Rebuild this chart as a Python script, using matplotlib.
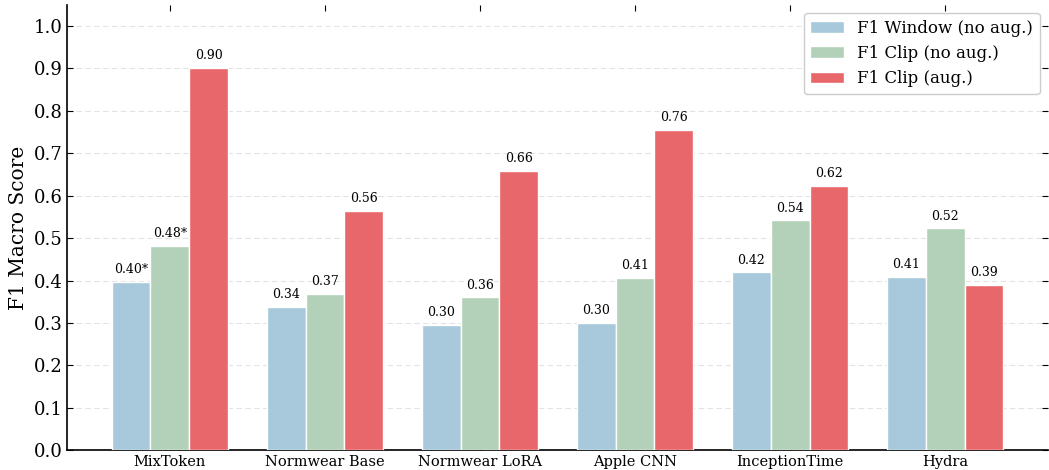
import numpy as np
import matplotlib
matplotlib.use("Agg")
import matplotlib.pyplot as plt

plt.rcParams["font.family"] = "DejaVu Serif"

# F1-resultater per modell
modeller = ["MixToken", "Normwear Base", "Normwear LoRA", "Apple CNN", "InceptionTime", "Hydra"]
f1_vindu = [0.397, 0.338, 0.296, 0.300, 0.419, 0.409]
f1_klipp = [0.482, 0.369, 0.361, 0.407, 0.542, 0.523]
f1_klipp_aug = [0.902, 0.564, 0.659, 0.755, 0.623, 0.390]
# stjerne betyr spesielt resultat
stjerne_vindu = [True, False, False, False, False, False]
stjerne_klipp = [True, False, False, False, False, False]
stjerne_aug = [False] * 6

farger = ["#a8c8db", "#b3d1b9", "#e8676a"]

x = np.arange(len(modeller))
bredde = 0.25

fig, ax = plt.subplots(figsize=(10.49, 4.7), dpi=100)

serier = [
    (f1_vindu, stjerne_vindu, "F1 Window (no aug.)"),
    (f1_klipp, stjerne_klipp, "F1 Clip (no aug.)"),
    (f1_klipp_aug, stjerne_aug, "F1 Clip (aug.)"),
]

for i, (verdier, stjerner, navn) in enumerate(serier):
    pos = x + (i - 1) * bredde
    ax.bar(pos, verdier, bredde, color=farger[i], edgecolor="white",
           linewidth=1, label=navn, zorder=3)
    for p, v, s in zip(pos, verdier, stjerner):
        tekst = f"{v:.2f}" + ("*" if s else "")
        ax.annotate(tekst, (p, v), xytext=(0, 4), textcoords="offset points",
                    ha="center", va="bottom", fontsize=9)

ax.set_ylim(0, 1.05)
ax.set_yticks(np.arange(0, 1.01, 0.1))
ax.set_xticks(x)
ax.set_xticklabels(modeller, fontsize=10.5)
ax.tick_params(axis="y", labelsize=13)
ax.tick_params(direction="in", top=True, right=True, length=4)
ax.set_ylabel("F1 Macro Score", fontsize=14.5)

ax.grid(axis="y", linestyle=(0, (5, 3)), color="#e3e3e3", linewidth=0.8, zorder=0)
ax.set_axisbelow(True)
ax.spines["top"].set_visible(False)
ax.spines["right"].set_visible(False)
ax.spines["left"].set_linewidth(1.2)
ax.spines["bottom"].set_linewidth(1.2)

ax.legend(loc="upper right", fontsize=12, framealpha=1, edgecolor="#cccccc")

plt.subplots_adjust(left=0.064, right=0.999, top=0.99, bottom=0.042)
plt.savefig("out.png")
